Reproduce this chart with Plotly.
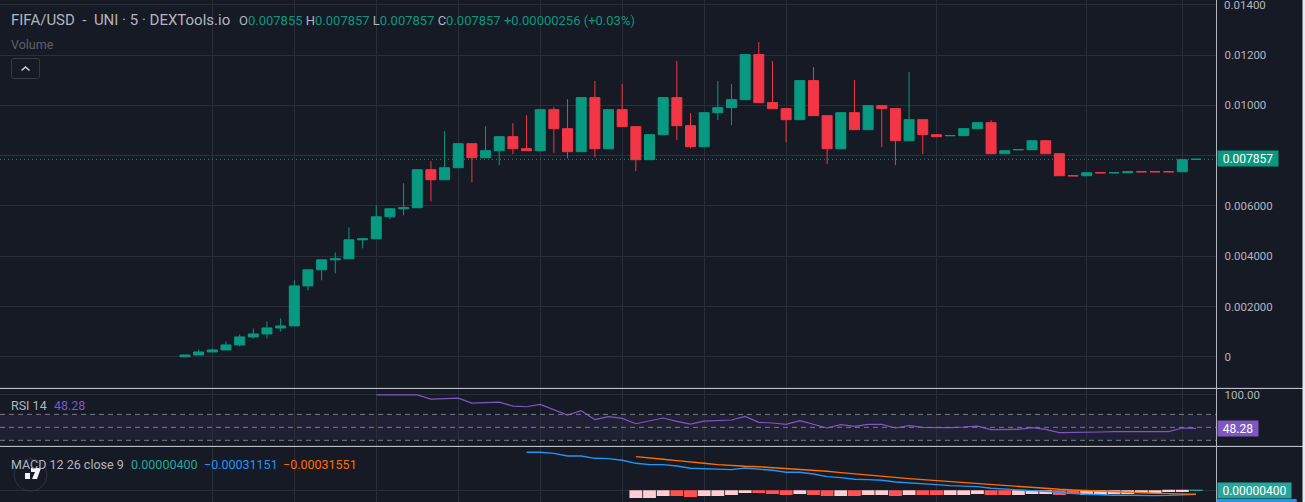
import plotly.graph_objects as go

W, H = 1305, 502
BG = "#161a25"
GRID = "#2a2e39"
UP = "#089981"
DOWN = "#f23645"
TXT = "#b2b5be"
FONT = "Roboto"

# ---- price candles (index 0..74) ----
opens = [0.000000,0.000072,0.000191,0.000271,0.000470,0.000789,0.000908,0.001147,0.001227,0.002820,0.003458,0.003856,0.003896,0.004653,0.004693,0.005569,0.005888,0.005928,0.007442,0.007044,0.007522,0.008478,0.007920,0.008199,0.008757,0.008279,0.008199,0.009833,0.009076,0.008160,0.010311,0.008279,0.009833,0.009156,0.007841,0.008837,0.010311,0.009195,0.008359,0.009713,0.009912,0.010231,0.012024,0.010112,0.009873,0.009434,0.010988,0.009594,0.008279,0.009713,0.009036,0.009992,0.009873,0.008598,0.009434,0.008837,0.008797,0.008797,0.009076,0.009315,0.008080,0.008239,0.008239,0.008597,0.008080,0.007203,0.007203,0.007323,0.007320,0.007323,0.007362,0.007362,0.007362,0.007362,0.007855]
highs = [0.000070,0.000291,0.000330,0.000609,0.000888,0.001127,0.001406,0.001526,0.003040,0.003458,0.003856,0.004155,0.005151,0.004693,0.006028,0.005888,0.006904,0.007442,0.007781,0.008976,0.008478,0.008478,0.009175,0.008757,0.009295,0.009614,0.009833,0.009932,0.010251,0.010311,0.010968,0.009833,0.010849,0.009156,0.008837,0.010311,0.011765,0.009693,0.009713,0.010968,0.010849,0.012024,0.012522,0.011765,0.009873,0.010988,0.011526,0.009594,0.009713,0.011008,0.009992,0.009992,0.009873,0.011327,0.009434,0.008837,0.008800,0.009076,0.009315,0.009414,0.008199,0.008242,0.008597,0.008597,0.008080,0.007203,0.007322,0.007323,0.007323,0.007362,0.007362,0.007362,0.007362,0.007840,0.007857]
lows = [0.000000,0.000072,0.000191,0.000271,0.000410,0.000729,0.000729,0.001008,0.001227,0.002641,0.003040,0.003318,0.003896,0.004314,0.004693,0.005470,0.005629,0.005928,0.006187,0.007044,0.007522,0.006944,0.007920,0.007622,0.008060,0.008199,0.008199,0.008100,0.007900,0.008160,0.007940,0.008279,0.009156,0.007383,0.007841,0.008837,0.008618,0.008299,0.008359,0.009414,0.009215,0.010231,0.010112,0.009873,0.008538,0.009434,0.009594,0.007661,0.008279,0.009036,0.009036,0.008339,0.007622,0.008598,0.008060,0.008757,0.008797,0.008797,0.009076,0.008080,0.008080,0.008239,0.008239,0.008080,0.007203,0.007200,0.007203,0.007320,0.007320,0.007323,0.007360,0.007360,0.007360,0.007362,0.007855]
closes = [0.000070,0.000191,0.000271,0.000470,0.000789,0.000908,0.001147,0.001227,0.002820,0.003458,0.003856,0.003896,0.004653,0.004693,0.005569,0.005888,0.005928,0.007442,0.007044,0.007522,0.008478,0.007920,0.008199,0.008757,0.008279,0.008199,0.009833,0.009076,0.008160,0.010311,0.008279,0.009833,0.009156,0.007841,0.008837,0.010311,0.009195,0.008359,0.009713,0.009912,0.010231,0.012024,0.010112,0.009873,0.009434,0.010988,0.009594,0.008279,0.009713,0.009036,0.009992,0.009873,0.008598,0.009434,0.008837,0.008757,0.008800,0.009076,0.009315,0.008080,0.008199,0.008242,0.008597,0.008080,0.007203,0.007200,0.007322,0.007320,0.007323,0.007362,0.007360,0.007360,0.007360,0.007840,0.007857]
last_price = 0.007857

price_ticks = [0, 0.002, 0.004, 0.006, 0.008, 0.010, 0.012, 0.014]
price_labels = ["0", "0.002000", "0.004000", "0.006000", "", "0.01000", "0.01200", "0.01400"]
time_grid = [2, 8, 14, 20, 26, 32, 38, 44, 55, 66, 73]

# ---- RSI (starts at candle 14) ----
rsi_start = 14
rsi = [100,100,100,100,93.6,94,95,87.4,88,89,82.8,81.8,85.4,77,69,75.6,61.8,66.4,63.8,55.6,59.7,64.4,59.2,55.1,59.7,60.3,61.3,66.9,57.7,56.7,54.6,60.3,54.6,49,54.1,51.5,54.6,54.6,49,52.6,50,49.5,49.5,50.5,52,46.4,46.9,46.9,49.5,46.9,41.8,41.8,42.8,42.8,43.3,43.3,43.3,43.3,43.3,49,48.28]

# ---- MACD (lines start at 25 and 33, histogram at 33) ----
macd_start = 25
macd = [0.002969,0.002969,0.002890,0.002682,0.002682,0.002500,0.002474,0.002344,0.002109,0.002005,0.002005,0.001901,0.001719,0.001667,0.001641,0.001614,0.001745,0.001667,0.001562,0.001406,0.001406,0.001276,0.001068,0.000990,0.000859,0.000833,0.000781,0.000651,0.000599,0.000521,0.000443,0.000365,0.000312,0.000286,0.000156,0.000078,0.000026,-0.000026,-0.000078,-0.000182,-0.000260,-0.000312,-0.000365,-0.000391,-0.000391,-0.000417,-0.000417,-0.000400,-0.000360,-0.00031151]
signal_start = 33
signal = [0.002630,0.002552,0.002422,0.002318,0.002239,0.002109,0.002005,0.001927,0.001875,0.001836,0.001771,0.001693,0.001641,0.001562,0.001484,0.001380,0.001276,0.001172,0.001094,0.000990,0.000911,0.000833,0.000755,0.000703,0.000625,0.000547,0.000456,0.000339,0.000260,0.000182,0.000130,0.000078,0.000026,-0.000026,-0.000078,-0.000130,-0.000182,-0.000208,-0.000234,-0.000260,-0.000286,-0.00031551]
hist_start = 33
hist = [-0.000599,-0.000599,-0.000443,-0.000443,-0.000521,-0.000443,-0.000443,-0.000365,-0.000208,-0.000208,-0.000286,-0.000365,-0.000286,-0.000365,-0.000443,-0.000443,-0.000443,-0.000365,-0.000365,-0.000443,-0.000365,-0.000365,-0.000365,-0.000365,-0.000365,-0.000286,-0.000365,-0.000365,-0.000365,-0.000286,-0.000286,-0.000365,-0.000286,-0.000365,-0.000365,-0.000286,-0.000286,-0.000208,-0.000208,-0.000130,-0.000130,0.000004]
hist_kind = ["p","p","p","r","r","p","p","p","p","r","r","r","p","r","r","p","r","p","p","r","p","r","r","p","p","p","r","r","p","p","p","r","r","p","p","p","p","p","p","p","p","t"]
kind_color = {"p": "#ffcdd2", "r": "#ff5252", "t": "#26a69a"}

# pane geometry in pixels
PLOT_R = 1216.5
def px(x): return x / W
def py(y): return 1 - y / H

X_SPAN = [-13.54, 75.5]

fig = go.Figure()
fig.add_trace(go.Candlestick(
    x=list(range(len(opens))), open=opens, high=highs, low=lows, close=closes,
    xaxis="x", yaxis="y", whiskerwidth=0,
    increasing=dict(line=dict(color=UP, width=1), fillcolor=UP),
    decreasing=dict(line=dict(color=DOWN, width=1), fillcolor=DOWN),
    showlegend=False, hoverinfo="skip"))
fig.add_trace(go.Scatter(
    x=list(range(rsi_start, rsi_start + len(rsi))), y=rsi, mode="lines",
    line=dict(color="#7e57c2", width=1.2), xaxis="x2", yaxis="y2", showlegend=False, hoverinfo="skip"))
fig.add_trace(go.Bar(
    x=list(range(hist_start, hist_start + len(hist))), y=hist,
    marker=dict(color=[kind_color[k] for k in hist_kind],
                line=dict(color=[kind_color[k] for k in hist_kind],
                          width=[1 if k == "t" else 0 for k in hist_kind])),
    xaxis="x3", yaxis="y3", showlegend=False, hoverinfo="skip"))
fig.add_trace(go.Scatter(
    x=list(range(macd_start, macd_start + len(macd))), y=macd, mode="lines",
    line=dict(color="#2196f3", width=1.4), xaxis="x3", yaxis="y3", showlegend=False, hoverinfo="skip"))
fig.add_trace(go.Scatter(
    x=list(range(signal_start, signal_start + len(signal))), y=signal, mode="lines",
    line=dict(color="#ff6d00", width=1.4), xaxis="x3", yaxis="y3", showlegend=False, hoverinfo="skip"))

def xax(anchor):
    return dict(domain=[0, px(PLOT_R)], range=X_SPAN, anchor=anchor, tickmode="array",
                tickvals=time_grid, showticklabels=False, ticks="", showgrid=True,
                gridcolor=GRID, gridwidth=1, zeroline=False, showline=False,
                rangeslider=dict(visible=False), fixedrange=True)

AXFONT = dict(family=FONT, size=11.5, color=TXT)

def yax(top, bottom, rng, tickvals, ticktext, anchor):
    return dict(domain=[py(bottom), py(top)], range=rng, side="right", anchor=anchor,
                tickmode="array", tickvals=tickvals, ticktext=ticktext, ticks="",
                ticklabelstandoff=7, tickfont=AXFONT,
                showgrid=True, gridcolor=GRID, gridwidth=1, zeroline=False,
                showline=False, fixedrange=True)

shapes = [
    dict(type="rect", xref="x2 domain", yref="y2", x0=0, x1=1, y0=30, y1=70,
         fillcolor="rgba(126,87,194,0.1)", line_width=0, layer="below"),
]
for lvl in (70, 50, 30):
    shapes.append(dict(type="line", xref="x2 domain", yref="y2", x0=0, x1=1, y0=lvl, y1=lvl,
                       line=dict(color="#787b86", width=1, dash="5px,4px"), layer="above"))
shapes.append(dict(type="line", xref="x domain", yref="y", x0=0, x1=1, y0=last_price, y1=last_price,
                   line=dict(color=UP, width=1, dash="1px,3px"), layer="above"))
for yy in (388.4, 446.4):
    shapes.append(dict(type="line", xref="paper", yref="paper", x0=0, x1=1, y0=py(yy), y1=py(yy),
                       line=dict(color="#d1d4dc", width=1)))
shapes.append(dict(type="line", xref="paper", yref="paper", x0=px(PLOT_R), x1=px(PLOT_R), y0=0, y1=1,
                   line=dict(color="#b2b5be", width=1)))
bx0, bx1, by0, by1 = 11.5, 39.5, 58.5, 78.5
r = 2.5
btn = (f"M {px(bx0+r)},{py(by0)} L {px(bx1-r)},{py(by0)} Q {px(bx1)},{py(by0)} {px(bx1)},{py(by0+r)} "
       f"L {px(bx1)},{py(by1-r)} Q {px(bx1)},{py(by1)} {px(bx1-r)},{py(by1)} L {px(bx0+r)},{py(by1)} "
       f"Q {px(bx0)},{py(by1)} {px(bx0)},{py(by1-r)} L {px(bx0)},{py(by0+r)} Q {px(bx0)},{py(by0)} {px(bx0+r)},{py(by0)} Z")
shapes.append(dict(type="path", xref="paper", yref="paper", path=btn, line=dict(color="#363a45", width=1)))
chev = f"M {px(21.5)},{py(70.5)} L {px(25.5)},{py(67)} L {px(29.5)},{py(70.5)}"
shapes.append(dict(type="path", xref="paper", yref="paper", path=chev, line=dict(color="#d1d4dc", width=1.5)))
shapes.append(dict(type="circle", xref="paper", yref="paper", x0=px(14), x1=px(47), y0=py(491), y1=py(459),
                   line=dict(color="#2f3340", width=1)))
logo1 = f"M {px(25)},{py(473)} L {px(30)},{py(473)} L {px(30)},{py(479)} L {px(25)},{py(479)} Z"
logo7 = f"M {px(31)},{py(468)} L {px(41)},{py(468)} L {px(37)},{py(479)} L {px(32)},{py(479)} L {px(35)},{py(472)} L {px(31)},{py(472)} Z"
for p in (logo1, logo7):
    shapes.append(dict(type="path", xref="paper", yref="paper", path=p, fillcolor="#f0f3fa", line_width=0))
# blue MACD scale badge, mostly below the capture
shapes.append(dict(type="rect", xref="paper", yref="paper", x0=px(PLOT_R), x1=px(1296.7), y0=py(502), y1=py(499),
                   fillcolor="#2196f3", line_width=0))
shapes.append(dict(type="rect", xref="paper", yref="paper", x0=px(1302.5), x1=1, y0=0, y1=1,
                   fillcolor="#e8eaf0", line_width=0))

def note(x, y, text, size=13, color=TXT):
    return dict(xref="paper", yref="paper", x=px(x - 2), y=py(y), text=text, showarrow=False,
                xanchor="left", yanchor="middle", align="left",
                font=dict(family=FONT, size=size, color=color))

def badge(x, y, w, h, text, bg):
    return dict(xref="paper", yref="paper", x=px(x), y=py(y), text=text, showarrow=False,
                xanchor="left", yanchor="middle", align="center", width=w, height=h, bgcolor=bg,
                borderpad=0, font=dict(family=FONT, size=12, color="#ffffff"))

def sp(t, c):
    return f'<span style="color:{c}">{t}</span>'

ohlc = ("O" + sp("0.007855", UP) + " H" + sp("0.007857", UP) + " L" + sp("0.007857", UP) +
        " C" + sp("0.007857", UP) + " " + sp("+0.00000256 (+0.03%)", UP))
annotations = [
    note(11, 20.5, "FIFA/USD\u00a0 - \u00a0UNI · 5 · DEXTools.io", size=15),
    note(239, 20.5, ohlc, size=13),
    note(11, 44.5, "Volume", size=12.5, color="#5d606b"),
    note(11, 405, "RSI 14", size=12.5),
    note(54, 405, "48.28", size=12.5, color="#7e57c2"),
    note(11, 464, "MACD 12 26 close 9", size=12.5),
    note(131, 464, "0.00000400", size=12.5, color="#26a69a"),
    note(204, 464, "−0.00031151", size=12.5, color="#2196f3"),
    note(283, 464, "−0.00031551", size=12.5, color="#ff6d00"),
    dict(xref="paper", yref="y", x=px(1222), y=0.014, text="0.01400", showarrow=False,
         xanchor="left", yanchor="middle", font=AXFONT),
    badge(1216.5, 159, 60, 15, "0.007857", UP),
    badge(1216.5, 428.4, 40, 15, "48.28", "#7e57c2"),
    badge(1216.5, 490.2, 73, 15, "0.00000400", "#26a69a"),
]

fig.update_layout(
    width=W, height=H, margin=dict(l=0, r=0, t=0, b=0), autosize=False,
    paper_bgcolor=BG, plot_bgcolor=BG, showlegend=False, boxgap=0.268, boxgroupgap=0,
    bargap=0.06, barmode="overlay", font=dict(family=FONT, color=TXT),
    xaxis=xax("y"), xaxis2=xax("y2"), xaxis3=xax("y3"),
    yaxis=yax(0, 388, [-0.001243, 0.014195], price_ticks, price_labels, "x"),
    yaxis2=yax(388.8, 446, [21.2, 109.5], [100], ["100.00"], "x2"),
    yaxis3=yax(446.8, 502, [-0.000914, 0.0034], [0], [""], "x3"),
    shapes=shapes, annotations=annotations,
)

fig.write_html("out.html", config=dict(displayModeBar=False),
               post_script="document.body.style.margin='0';document.body.style.background='%s';" % BG)
